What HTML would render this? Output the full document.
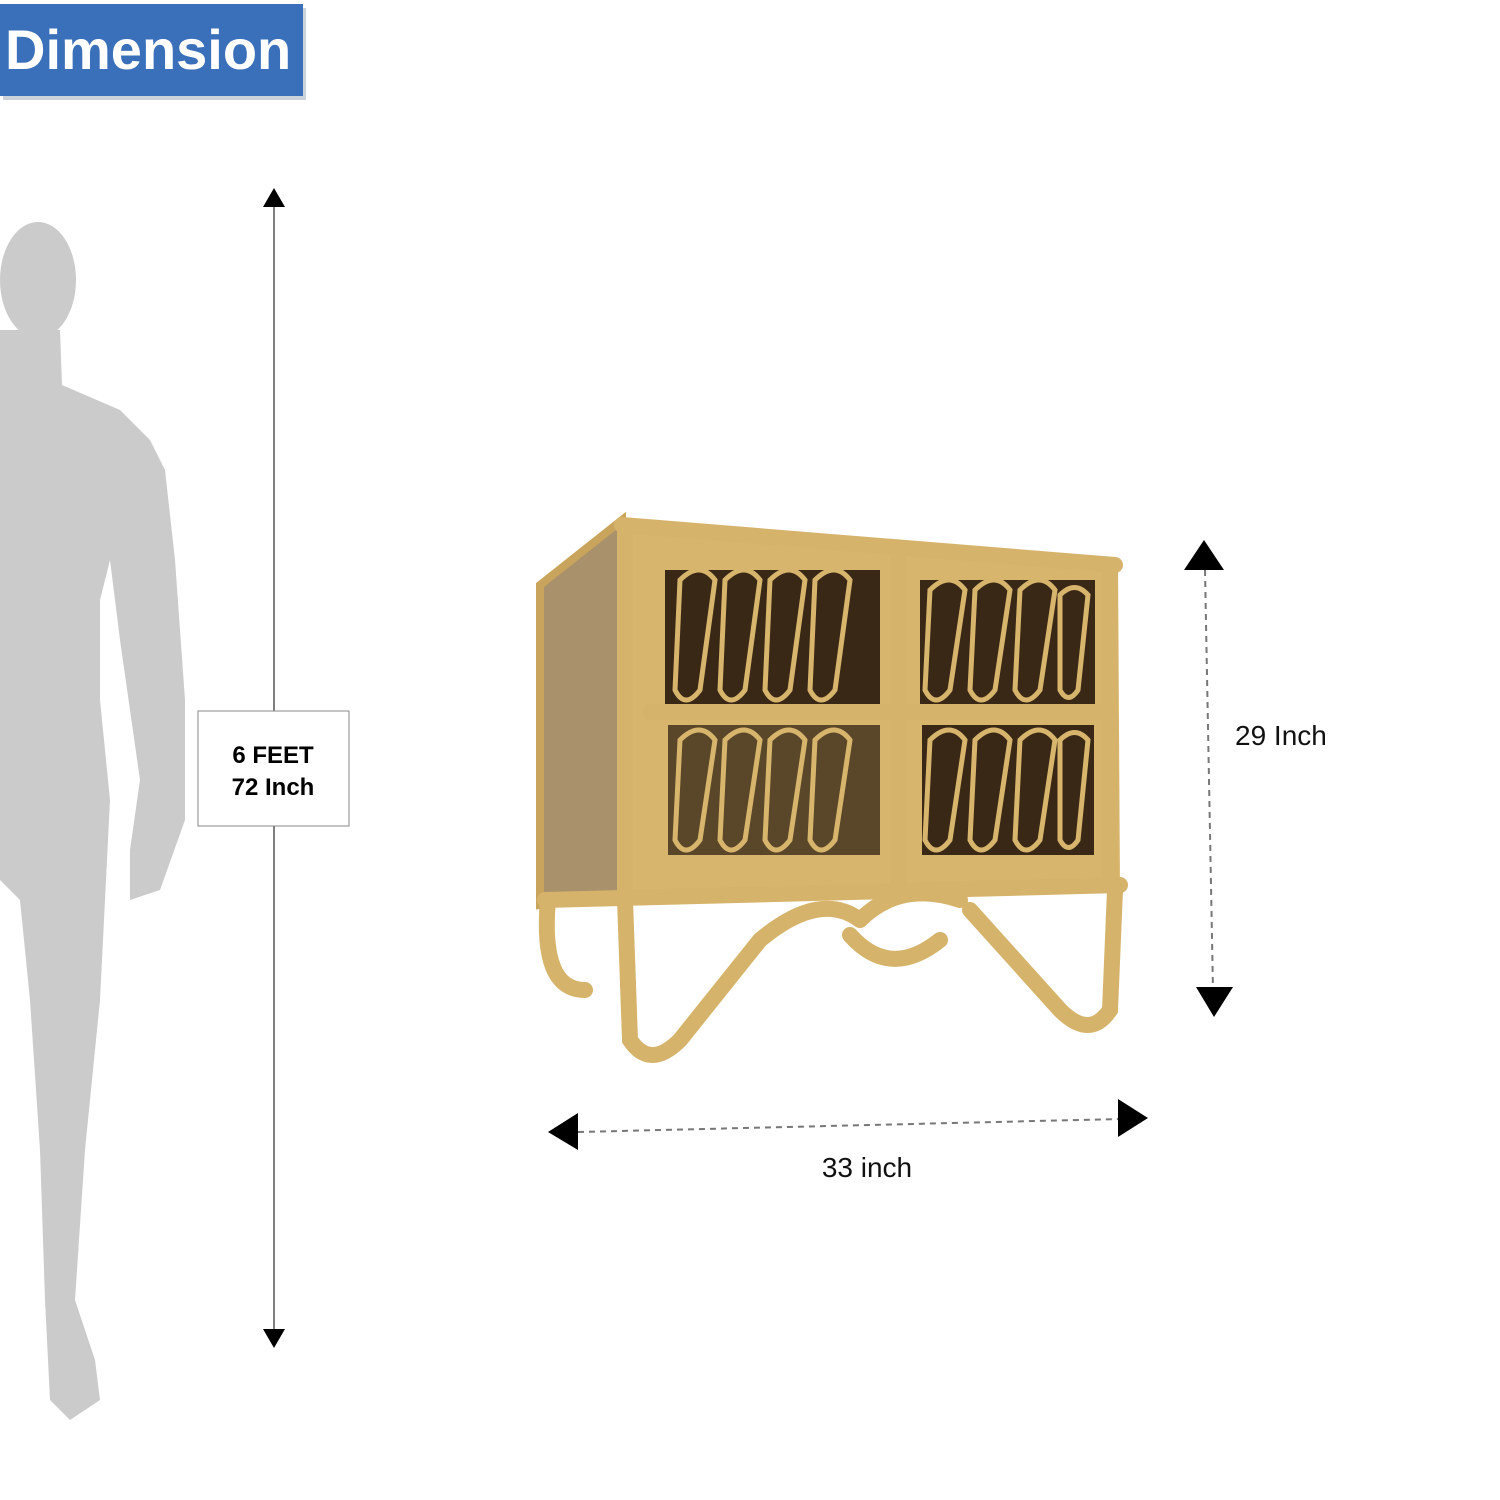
<!DOCTYPE html>
<html><head><meta charset="utf-8"><style>
html,body{margin:0;padding:0;background:#fff;}
svg{display:block;}
</style></head><body>
<svg width="1500" height="1500" viewBox="0 0 1500 1500" xmlns="http://www.w3.org/2000/svg">
<rect width="1500" height="1500" fill="#fff"/>
<rect x="3" y="8" width="303" height="92" fill="#9aa7b8" opacity="0.5"/>
<rect x="0" y="4" width="303" height="92" fill="#3a6fba"/>
<text x="5" y="69" font-family="Liberation Sans, sans-serif" font-weight="bold" font-size="56" fill="#fff">Dimension</text>

<g fill="#cbcbcb">
<ellipse cx="38" cy="280" rx="38" ry="58"/>
<path d="M0 330 L60 330 L62 385 L120 410 L150 440 L165 470 L175 560 L185 700 L185 820 L160 890 L130 900 L130 850 L140 780 L120 640 L110 560 L100 600 L100 700 L110 800 L100 1000 L85 1150 L75 1300 L95 1360 L100 1400 L70 1420 L50 1400 L45 1300 L40 1150 L30 1000 L20 900 L0 880 Z"/>
</g>

<line x1="274" y1="200" x2="274" y2="1335" stroke="#555" stroke-width="1.5"/>
<polygon points="274,188 263,207 285,207" fill="#000"/>
<polygon points="274,1348 263,1329 285,1329" fill="#000"/>
<rect x="198" y="711" width="151" height="115" fill="#fff" stroke="#888" stroke-width="1"/>
<text x="273" y="763" text-anchor="middle" font-family="Liberation Sans, sans-serif" font-weight="bold" font-size="24" fill="#000">6 FEET</text>
<text x="273" y="795" text-anchor="middle" font-family="Liberation Sans, sans-serif" font-weight="bold" font-size="24" fill="#000">72 Inch</text>

<g>
<polygon points="540,585 622,520 622,895 540,905" fill="#a8916b" stroke="#c9a45c" stroke-width="8"/>
<polygon points="620,518 1118,560 1120,890 620,895" fill="#d8b56c"/>
<rect x="665" y="570" width="215" height="135" fill="#3a2816"/>
<rect x="920" y="580" width="175" height="125" fill="#3a2816"/>
<rect x="668" y="725" width="212" height="130" fill="#5a4628"/>
<rect x="922" y="725" width="172" height="130" fill="#3a2816"/>
<g fill="none" stroke="#d8b56c" stroke-width="5">
<path d="M680 580 Q700 560 715 580 L700 690 Q685 710 675 690 Z"/>
<path d="M725 580 Q745 560 760 580 L745 690 Q730 710 720 690 Z"/>
<path d="M770 580 Q790 560 805 580 L790 690 Q775 710 765 690 Z"/>
<path d="M815 580 Q835 560 850 580 L835 690 Q820 710 810 690 Z"/>
<path d="M930 590 Q950 570 965 590 L950 690 Q935 710 925 690 Z"/>
<path d="M975 590 Q995 570 1010 590 L995 690 Q980 710 970 690 Z"/>
<path d="M1020 590 Q1040 570 1055 590 L1040 690 Q1025 710 1015 690 Z"/>
<path d="M1060 595 Q1075 580 1088 595 L1078 690 Q1068 705 1060 690 Z"/>
<path d="M680 740 Q700 720 715 740 L700 840 Q685 860 675 840 Z"/>
<path d="M725 740 Q745 720 760 740 L745 840 Q730 860 720 840 Z"/>
<path d="M770 740 Q790 720 805 740 L790 840 Q775 860 765 840 Z"/>
<path d="M815 740 Q835 720 850 740 L835 840 Q820 860 810 840 Z"/>
<path d="M930 740 Q950 720 965 740 L950 840 Q935 860 925 840 Z"/>
<path d="M975 740 Q995 720 1010 740 L995 840 Q980 860 970 840 Z"/>
<path d="M1020 740 Q1040 720 1055 740 L1040 840 Q1025 860 1015 840 Z"/>
<path d="M1060 740 Q1075 725 1088 740 L1078 840 Q1068 855 1060 840 Z"/>
</g>
<g fill="none" stroke="#d6b36a" stroke-width="16" stroke-linecap="round">
<line x1="622" y1="525" x2="1115" y2="565"/>
<line x1="625" y1="530" x2="625" y2="890"/>
<line x1="1110" y1="565" x2="1110" y2="885"/>
<line x1="898" y1="560" x2="898" y2="885"/>
<line x1="650" y1="712" x2="1100" y2="712"/>
<line x1="545" y1="900" x2="1120" y2="885"/>
<path d="M548 900 Q540 990 585 990"/>
<path d="M625 900 L630 1040 Q650 1070 680 1040 L760 940 Q820 890 860 920"/>
<path d="M1115 890 L1110 1010 Q1090 1040 1060 1010 L970 910"/>
<path d="M850 935 Q890 980 940 940"/>
<path d="M860 920 Q900 880 960 900"/>
</g>
</g>

<line x1="1205" y1="570" x2="1213" y2="990" stroke="#777" stroke-width="2" stroke-dasharray="6,5"/>
<polygon points="1204,540 1184,570 1224,570" fill="#000"/>
<polygon points="1214,1017 1196,987 1233,987" fill="#000"/>
<text x="1235" y="745" font-family="Liberation Sans, sans-serif" font-size="28" fill="#111">29 Inch</text>

<line x1="578" y1="1132" x2="1120" y2="1119" stroke="#777" stroke-width="2" stroke-dasharray="6,5"/>
<polygon points="548,1132 578,1113 578,1150" fill="#000"/>
<polygon points="1148,1118 1118,1099 1118,1137" fill="#000"/>
<text x="867" y="1177" text-anchor="middle" font-family="Liberation Sans, sans-serif" font-size="28" fill="#111">33 inch</text>
</svg>
</body></html>
